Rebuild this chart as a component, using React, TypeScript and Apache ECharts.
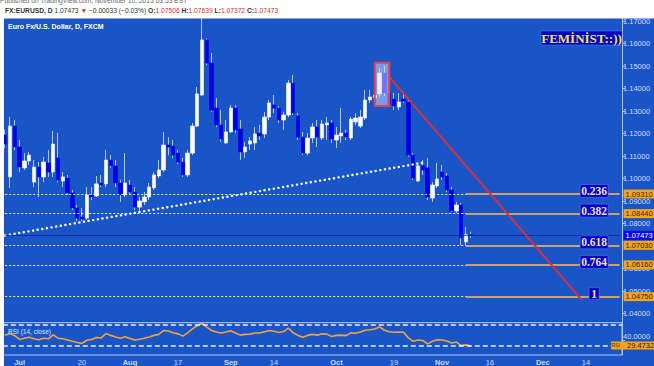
import React, { useEffect, useRef } from 'react';
import * as echarts from 'echarts';

// ---- data ----
const opens = [1.1193,1.1007,1.1233,1.1140,1.1047,1.1078,1.0984,1.1051,1.1007,1.1069,
1.1029,1.1091,1.0989,1.1002,1.0936,1.0869,1.0829,1.0824,1.0927,1.0922,
1.0980,1.0976,1.1082,1.1056,1.0980,1.0927,1.0971,1.0940,1.0873,1.0896,
1.0918,1.0958,1.1011,1.1038,1.1149,1.1144,1.1113,1.1073,1.1016,1.1113,
1.1233,1.1371,1.1616,1.1513,1.1313,1.1238,1.1158,1.1207,1.1313,1.1220,
1.1118,1.1153,1.1158,1.1202,1.1198,1.1273,1.1327,1.1313,1.1260,1.1282,
1.1424,1.1278,1.1184,1.1113,1.1180,1.1229,1.1180,1.1238,1.1247,1.1171,
1.1189,1.1202,1.1180,1.1251,1.1233,1.1269,1.1349,1.1358,1.1376,1.1469,
1.1380,1.1353,1.1318,1.1353,1.1340,1.1104,1.0989,1.1056,1.1047,1.0913,
1.0967,1.1029,1.1011,1.0949,1.0856,1.0882,1.0718,1.07506];
const highs = [1.1216,1.1273,1.1260,1.1171,1.1113,1.1118,1.1082,1.1073,1.1096,1.1127,
1.1211,1.1202,1.1029,1.1016,1.0949,1.0882,1.0869,1.0962,1.0962,1.1011,
1.1016,1.1127,1.1104,1.1082,1.0994,1.1113,1.0994,1.0962,1.0918,1.0940,
1.0980,1.1029,1.1082,1.1207,1.1184,1.1171,1.1127,1.1091,1.1127,1.1247,
1.1407,1.1713,1.1624,1.1558,1.1358,1.1304,1.1260,1.1327,1.1327,1.1260,
1.1162,1.1184,1.1229,1.1238,1.1296,1.1349,1.1371,1.1322,1.1296,1.1438,
1.1460,1.1291,1.1207,1.1202,1.1247,1.1260,1.1260,1.1273,1.1260,1.1229,
1.1313,1.1216,1.1273,1.1291,1.1304,1.1393,1.1393,1.1402,1.1491,1.1500,
1.1389,1.1380,1.1380,1.1384,1.1349,1.1113,1.1073,1.1082,1.1091,1.0984,
1.1069,1.1060,1.1024,1.0962,1.0896,1.0891,1.0784,1.07639];
const lows = [1.1136,1.0958,1.1127,1.1029,1.1038,1.1060,1.0962,1.0918,1.0984,1.1007,
1.1007,1.0984,1.0962,1.0927,1.0860,1.0811,1.0811,1.0816,1.0904,1.0918,
1.0962,1.0962,1.1047,1.0962,1.0896,1.0918,1.0927,1.0860,1.0851,1.0882,
1.0904,1.0949,1.1002,1.1029,1.1104,1.1091,1.1064,1.1007,1.1007,1.1104,
1.1229,1.1367,1.1504,1.1296,1.1229,1.1162,1.1153,1.1202,1.1202,1.1082,
1.1091,1.1127,1.1127,1.1171,1.1180,1.1260,1.1291,1.1247,1.1216,1.1273,
1.1282,1.1171,1.1104,1.1104,1.1158,1.1140,1.1171,1.1171,1.1158,1.1136,
1.1158,1.1171,1.1171,1.1238,1.1224,1.1260,1.1336,1.1331,1.1362,1.1367,
1.1318,1.1304,1.1304,1.1336,1.1096,1.0994,1.0984,1.1016,1.0904,1.0896,
1.0958,1.0994,1.0940,1.0851,1.0847,1.0704,1.0704,1.07372];
const closes = [1.1153,1.1233,1.1140,1.1051,1.1078,1.1104,1.1051,1.1007,1.1073,1.1029,
1.1153,1.0993,1.1007,1.0936,1.0869,1.0824,1.0820,1.0927,1.0918,1.0976,
1.0971,1.1082,1.1056,1.0980,1.0927,1.0980,1.0940,1.0873,1.0900,1.0918,
1.0962,1.1016,1.1038,1.1149,1.1140,1.1104,1.1073,1.1016,1.1113,1.1233,
1.1376,1.1616,1.1513,1.1304,1.1238,1.1176,1.1207,1.1313,1.1216,1.1118,
1.1140,1.1167,1.1198,1.1189,1.1273,1.1336,1.1313,1.1260,1.1282,1.1424,
1.1291,1.1184,1.1113,1.1180,1.1229,1.1184,1.1242,1.1247,1.1176,1.1193,
1.1202,1.1184,1.1264,1.1269,1.1273,1.1349,1.1362,1.1371,1.1469,1.1380,
1.1327,1.1322,1.1340,1.1344,1.1104,1.1002,1.1056,1.1038,1.0918,1.0971,
1.0998,1.1007,1.0949,1.0856,1.0882,1.0736,1.07506,1.07473];
const rsiValues = [50.5,53.6,49.3,42,44.5,46.4,43.3,41.5,44.5,43.3,
51,44.5,43.3,41,38.5,36,34.5,40.5,42,46,
45,53.6,50,47,44.5,47.4,44,41,42.5,44.5,
47,50,52,59.6,58.5,55,53,48.5,55,62.7,
68.4,74,66,59.5,56.5,54.5,56.5,59,54.5,50.5,
52,52.5,54.5,54.5,57,59.5,58,55.5,57.5,64,
55,50,46.5,50,52,50.5,53,52.5,48,50,
50.5,49.5,55,54,56.5,60,61,62.5,66.5,60,
57,56,56.5,56,45,38.5,41,40,33.5,38.5,
41.7,41,39,35,37,30.2,31.5,29.4732];

const fibRatios = ['0.236', '0.382', '0.618', '0.764', '1'];
const fibPrices = [1.0931, 1.0844, 1.0703, 1.0616, 1.0475];
const lastPrice = 1.07473;
const lastRsi = 29.4732;
const priceTicks = [1.04,1.05,1.06,1.08,1.09,1.10,1.11,1.12,1.13,1.14,1.15,1.16,1.17];
const rsiTicks = [40];
const rsiBands = [70, 30];
// drawings: [category index, price]
const trendLine = [[0, 1.0747], [87, 1.1070]];
const redLine = [[80, 1.1452], [120, 1.0463]];
const boxCorners = [[77, 1.1515], [80, 1.1322]];
const fibStartIndex = 96;
const dateLabels: Record<string, string> = {
  '2015-07-01': 'Jul', '2015-07-20': '20', '2015-08-03': 'Aug', '2015-08-17': '17',
  '2015-09-01': 'Sep', '2015-09-14': '14', '2015-10-01': 'Oct', '2015-10-19': '19',
  '2015-11-02': 'Nov', '2015-11-16': '16', '2015-12-01': 'Dec', '2015-12-14': '14',
};

function buildDates(start: string, count: number): string[] {
  const out: string[] = [];
  const d = new Date(start + 'T00:00:00Z');
  while (out.length < count) {
    const wd = d.getUTCDay();
    if (wd !== 0 && wd !== 6) out.push(d.toISOString().slice(0, 10));
    d.setUTCDate(d.getUTCDate() + 1);
  }
  return out;
}
const categories = buildDates('2015-06-26', 129);
const lastIdx = categories.length - 1;

const BG = '#1a55c8';
const WICK = '#b4c3f0';
const UP = '#ffffff';
const DOWN = '#0000e6';
const AXIS = '#b4c4f0';
const LABEL = '#cfdcff';
const ORANGE_LINE = '#cfa066';
const ORANGE_BOX = '#f4a41c';

function buildOption() {
  const ohlc = opens.map((o, i) => [o, closes[i], lows[i], highs[i]]);
  const bodies = opens.map((o, i) => [o, closes[i], Math.min(o, closes[i]), Math.max(o, closes[i])]);

  const fibDashed = fibPrices.map((p) => [
    { coord: [0, p], lineStyle: { color: 'rgba(255,255,255,0.92)', width: 1.2, type: [2, 2] } },
    { coord: [fibStartIndex, p] },
  ]);
  const fibSolid = fibPrices.map((p) => [
    {
      coord: [fibStartIndex, p],
      lineStyle: { color: ORANGE_LINE, width: 2, type: 'solid' },
      label: {
        show: true, position: 'end', distance: 4, formatter: p.toFixed(5),
        backgroundColor: ORANGE_BOX, color: '#3a2600', fontSize: 7.5, padding: [1, 2, 0, 2],
        lineHeight: 8, fontFamily: 'Liberation Sans',
      },
    },
    { coord: [lastIdx, p] },
  ]);
  const priceLine = [[
    {
      coord: [0, lastPrice],
      lineStyle: { color: 'rgba(8,28,150,0.7)', width: 1, type: 'solid' },
      label: {
        show: true, position: 'end', distance: 4, formatter: lastPrice.toFixed(5),
        backgroundColor: '#0a0ae0', color: '#ffffff', fontSize: 7.5, padding: [1, 2, 0, 2],
        lineHeight: 8, fontFamily: 'Liberation Sans',
      },
    },
    { coord: [lastIdx, lastPrice] },
  ]];

  const fibPoints = fibPrices.map((p, k) => ({
    coord: [123, p],
    symbol: 'rect',
    symbolSize: fibRatios[k] === '1' ? [10, 12] : [28, 13],
    symbolOffset: [-1.5, -3],
    itemStyle: { color: '#0000c8', borderColor: '#5d74e6', borderWidth: 0.6 },
    label: {
      show: true, position: 'inside', formatter: fibRatios[k], color: '#efe0bd',
      fontFamily: 'Liberation Serif', fontWeight: 'bold', fontSize: 11.5,
    },
  }));

  const yMax = 1.17 + (21 - 18.5) / 2250;
  const yMin = 1.17 - (322.7 - 21) / 2250;

  return {
    animation: false,
    backgroundColor: BG,
    textStyle: { fontFamily: 'Liberation Sans' },
    grid: [
      { left: 2.8, width: 619.2, top: 18.5, height: 304.2 },
      { left: 2.8, width: 619.2, top: 322.7, height: 34.6, show: true, borderColor: AXIS, borderWidth: 1, backgroundColor: 'transparent' },
    ],
    xAxis: [
      {
        type: 'category', gridIndex: 0, data: categories, boundaryGap: true,
        axisLine: { show: false }, axisTick: { show: false }, axisLabel: { show: false }, splitLine: { show: false },
      },
      {
        type: 'category', gridIndex: 1, data: categories, boundaryGap: true,
        axisLine: { show: false }, axisTick: { show: false }, splitLine: { show: false },
        axisLabel: {
          interval: (_i: number, v: string) => !!dateLabels[v],
          formatter: (v: string) => {
            const t = dateLabels[v] || '';
            return t.length === 3 ? `{m|${t}}` : `{d|${t}}`;
          },
          margin: 3,
          rich: {
            m: { fontWeight: 'bold', color: LABEL, fontSize: 7.5 },
            d: { color: LABEL, fontSize: 7.5 },
          },
        },
      },
    ],
    yAxis: [
      {
        type: 'value', gridIndex: 0, position: 'right', min: yMin, max: yMax, scale: true,
        axisLine: { show: true, lineStyle: { color: AXIS, width: 1 } },
        axisTick: { show: true, length: 3, customValues: priceTicks, lineStyle: { color: AXIS } },
        axisLabel: { customValues: priceTicks, formatter: (v: number) => v.toFixed(5), color: LABEL, fontSize: 7.5, margin: 1 },
        splitLine: { show: false },
      },
      {
        type: 'value', gridIndex: 1, position: 'right', min: 11.8, max: 74.7,
        axisLine: { show: true, lineStyle: { color: AXIS, width: 1 } },
        axisTick: { show: true, length: 3, customValues: rsiTicks, lineStyle: { color: AXIS } },
        axisLabel: { customValues: rsiTicks, formatter: (v: number) => v.toFixed(4), color: LABEL, fontSize: 7.5, margin: 1, verticalAlign: 'bottom' },
        splitLine: { show: false },
      },
    ],
    series: [
      {
        type: 'candlestick', name: 'wicks', xAxisIndex: 0, yAxisIndex: 0, data: ohlc, barWidth: 1,
        itemStyle: { color: WICK, color0: WICK, borderColor: WICK, borderColor0: WICK, borderWidth: 1 },
        z: 2, silent: true,
      },
      {
        type: 'candlestick', name: 'bodies', xAxisIndex: 0, yAxisIndex: 0, data: bodies, barWidth: 3.8,
        itemStyle: { color: UP, color0: DOWN, borderColor: UP, borderColor0: DOWN, borderWidth: 0.6 },
        z: 3, silent: true,
        markLine: {
          silent: true, symbol: ['none', 'none'], label: { show: false }, z: 6,
          data: [...fibDashed, ...fibSolid, ...priceLine],
        },
        markPoint: { silent: true, z: 8, data: fibPoints },
      },
      {
        type: 'line', name: 'trend', xAxisIndex: 0, yAxisIndex: 0, data: trendLine, symbol: 'none', z: 5,
        lineStyle: { color: '#ffffff', width: 2.4, type: [0.1, 4.6], cap: 'round' }, silent: true,
      },
      {
        type: 'line', name: 'red', xAxisIndex: 0, yAxisIndex: 0, data: redLine, symbol: 'none', z: 6,
        lineStyle: { color: '#d8303e', width: 2 }, silent: true,
        markArea: {
          silent: true, z: 7, label: { show: false },
          itemStyle: { color: 'rgba(214,220,255,0.52)', borderColor: '#e8404c', borderWidth: 2 },
          data: [[{ coord: boxCorners[0] }, { coord: boxCorners[1] }]],
        },
      },
      {
        type: 'line', name: 'RSI', xAxisIndex: 1, yAxisIndex: 1, data: rsiValues, symbol: 'none', z: 4,
        lineStyle: { color: '#f2a23c', width: 1.6 }, silent: true,
        markLine: {
          silent: true, symbol: ['none', 'none'], label: { show: false },
          lineStyle: { color: 'rgba(255,255,255,0.9)', width: 1.5, type: [5, 3] },
          data: rsiBands.map((v) => ({ yAxis: v })),
        },
        markPoint: {
          silent: true, z: 8,
          data: [{
            coord: [lastIdx, lastRsi], symbol: 'rect', symbolSize: [43, 8], symbolOffset: [13, -0.5],
            itemStyle: { color: ORANGE_BOX },
            label: {
              show: true, position: 'inside', formatter: '{a|RSI}  {b|' + lastRsi.toFixed(4) + '}',
              rich: { a: { fontSize: 5.5, color: '#5a3a00' }, b: { fontSize: 7.5, color: '#2a1a00' } },
            },
          }],
        },
      },
    ],
    graphic: [
      { type: 'rect', z: 100, shape: { x: 0, y: 0, width: 654, height: 18.5 }, style: { fill: '#ffffff' } },
      { type: 'rect', z: 100, shape: { x: 0, y: 0, width: 4, height: 366 }, style: { fill: '#ffffff' } },
      {
        type: 'text', z: 101, x: 0, y: 3.5,
        style: { text: 'Published on TradingView.com, November 10, 2015 03:53 EST', fill: '#666', font: '6.7px "Liberation Sans"', verticalAlign: 'bottom' },
      },
      {
        type: 'text', z: 101, x: 5, y: 10.5,
        style: {
          text: '{b|FX:EURUSD, D} {n|1.07473} {r|▼} {n|\u22120.00033 (\u22120.03%)} {b|O:}{r|1.07506} {b|H:}{r|1.07639} {b|L:}{r|1.07372} {b|C:}{r|1.07473}',
          verticalAlign: 'middle',
          font: '6.7px "Liberation Sans"',
          rich: {
            b: { fontWeight: 'bold', fill: '#333', fontSize: 6.7, fontFamily: 'Liberation Sans' },
            n: { fill: '#333', fontSize: 6.7, fontFamily: 'Liberation Sans' },
            r: { fill: '#d3302c', fontSize: 6.7, fontFamily: 'Liberation Sans' },
          },
        },
      },
      {
        type: 'text', z: 50, x: 8, y: 26.7,
        style: { text: 'Euro Fx/U.S. Dollar, D, FXCM', fill: '#ffffff', font: 'bold 7px "Liberation Sans"', verticalAlign: 'middle' },
      },
      {
        type: 'group', z: 50, x: 541, y: 31,
        children: [
          { type: 'rect', z: 50, shape: { x: 0, y: 0, width: 81, height: 14 }, style: { fill: '#0000cc', stroke: '#5a78e0', lineWidth: 0.6 } },
          {
            type: 'text', z: 51, x: 40.5, y: 7.5,
            style: { text: 'FEMİNİST::))', fill: '#f4e63c', font: 'bold 13px "Liberation Serif"', align: 'center', verticalAlign: 'middle' },
          },
        ],
      },
      {
        type: 'text', z: 50, x: 8, y: 331,
        style: { text: 'RSI (14, close)', fill: '#dbe4ff', font: '6.5px "Liberation Sans"', verticalAlign: 'middle' },
      },
    ],
  };
}

export default function App() {
  const ref = useRef<HTMLDivElement>(null);
  useEffect(() => {
    if (!ref.current) return;
    const chart = echarts.init(ref.current, undefined, { renderer: 'svg' });
    chart.setOption(buildOption() as any);
    return () => chart.dispose();
  }, []);
  return <div ref={ref} style={{ position: 'fixed', left: 0, top: 0, width: 654, height: 366 }} />;
}
